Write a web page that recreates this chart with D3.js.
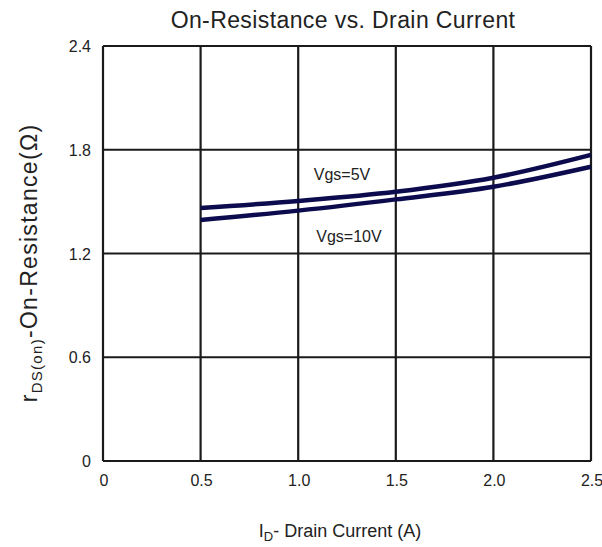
<!DOCTYPE html>
<html><head><meta charset="utf-8">
<script src="https://cdn.jsdelivr.net/npm/d3@7"></script>
<style>body{margin:0;background:#fff;} text{font-family:"Liberation Sans",Arial,sans-serif;fill:#222;}</style>
</head><body>
<svg id="c" width="602" height="547"></svg>
<script>
const xTicks = [0, 0.5, 1.0, 1.5, 2.0, 2.5];
const xTickLabels = ["0", "0.5", "1.0", "1.5", "2.0", "2.5"];
const yTicks = [0, 0.6, 1.2, 1.8, 2.4];
const yTickLabels = ["0", "0.6", "1.2", "1.8", "2.4"];
const current = [0.5, 1.0, 1.5, 2.0, 2.5];
const vgs5 = [1.463, 1.504, 1.557, 1.638, 1.770];
const vgs10 = [1.394, 1.448, 1.513, 1.586, 1.702];

const svg = d3.select("#c");
const m = {l:103, t:46, r:591, b:461};
const x = d3.scaleLinear().domain([0,2.5]).range([m.l, m.r]);
const y = d3.scaleLinear().domain([0,2.4]).range([m.b, m.t]);

// grid
const g = svg.append("g");
g.selectAll(".vx").data(xTicks).enter().append("line")
  .attr("x1", d=>x(d)).attr("x2", d=>x(d)).attr("y1", m.t).attr("y2", m.b)
  .attr("stroke", "#1a1a1a").attr("stroke-width", 2.2);
g.selectAll(".hy").data(yTicks).enter().append("line")
  .attr("y1", d=>y(d)).attr("y2", d=>y(d)).attr("x1", m.l).attr("x2", m.r)
  .attr("stroke", "#1a1a1a").attr("stroke-width", 2.2);

// tick labels
svg.selectAll(".xt").data(xTicks).enter().append("text")
  .attr("x", d=>x(d)+1).attr("y", 486).attr("text-anchor","middle")
  .attr("font-size", 16).text((d,i)=>xTickLabels[i]);
svg.selectAll(".yt").data(yTicks).enter().append("text")
  .attr("x", 91).attr("y", d=>y(d)+6).attr("text-anchor","end")
  .attr("font-size", 16).text((d,i)=>yTickLabels[i]);

// curves
const line = d3.line().x(d=>x(d[0])).y(d=>y(d[1])).curve(d3.curveMonotoneX);
[vgs5, vgs10].forEach(s => {
  svg.append("path").datum(current.map((c,i)=>[c, s[i]]))
    .attr("d", line).attr("fill","none").attr("stroke","#0b0b4d").attr("stroke-width", 4.5);
});

svg.append("text").attr("x", 342).attr("y", 180).attr("text-anchor","middle").attr("font-size",16).text("Vgs=5V");
svg.append("text").attr("x", 349).attr("y", 242).attr("text-anchor","middle").attr("font-size",16).text("Vgs=10V");

// title
svg.append("text").attr("x", 343).attr("y", 28).attr("text-anchor","middle").attr("font-size",23)
  .attr("letter-spacing",0.4).text("On-Resistance vs. Drain Current");

// x label
const xl = svg.append("text").attr("x", 340).attr("y", 537).attr("text-anchor","middle").attr("font-size",18);
xl.append("tspan").text("I");
xl.append("tspan").attr("font-size",13).attr("dy",4).text("D");
xl.append("tspan").attr("dy",-4).text("- Drain Current (A)");

// y label
const yl = svg.append("text").attr("transform","translate(37,263) rotate(-90)").attr("text-anchor","middle")
  .attr("font-size",23).attr("letter-spacing",1.3);
yl.append("tspan").text("r");
yl.append("tspan").attr("font-size",15).attr("dy",5).text("DS(on)");
yl.append("tspan").attr("dy",-5).text("-On-Resistance(Ω)");
</script>
</body></html>
